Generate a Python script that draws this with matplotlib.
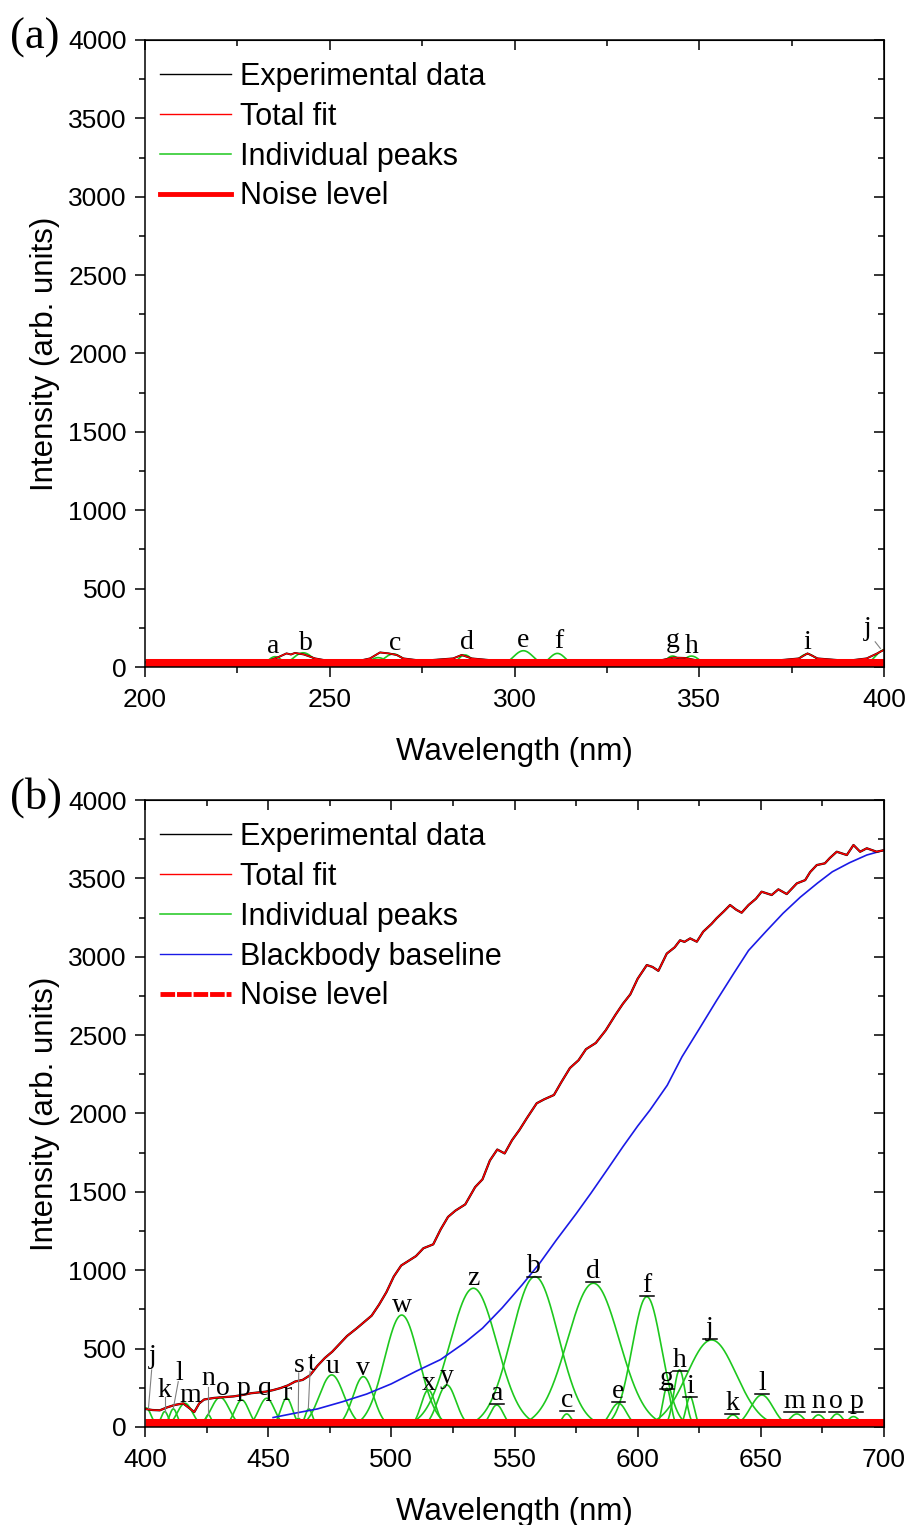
import matplotlib
matplotlib.use('Agg')
import matplotlib.pyplot as plt
from matplotlib.lines import Line2D
import numpy as np

plt.rcParams['font.family'] = 'Liberation Sans'

# ---------------- panel (a): 200-400 nm ----------------
fit_a_wl = [200, 230, 234, 236, 238.3, 239.5, 240.6, 243, 246, 250, 258, 260.9, 263.6,
            265.9, 268.1, 269.9, 275, 283.4, 285.7, 288.4, 293, 300, 320, 340, 343, 346,
            350, 370, 377, 379.3, 382, 390, 395.3, 398, 400]
fit_a_val = [30, 35, 45, 62, 87, 80, 90, 80, 55, 38, 40, 55, 93,
             87, 77, 55, 40, 55, 77, 55, 45, 40, 40, 45, 60, 58,
             40, 40, 55, 87, 55, 40, 55, 85, 110]
exp_a_val = fit_a_val

peak_a_cen = [235.2, 242.8, 263.1, 267.2, 286.6, 302.4, 311.6, 342.8, 347.9, 379.3, 400.0]
peak_a_hgt = [66, 91, 60, 83, 77, 104, 87, 70, 70, 83, 108]
peak_a_sig = [2.0, 2.8, 2.5, 2.8, 2.0, 2.8, 2.3, 2.0, 2.3, 2.6, 2.5]

lab_a_txt = ['a', 'b', 'c', 'd', 'e', 'f', 'g', 'h', 'i', 'j']
lab_a_x = [234.7, 243.5, 267.7, 287.1, 302.4, 311.9, 342.8, 347.9, 379.3, 395.7]
lab_a_y = [87, 108, 108, 113, 130, 119, 130, 87, 113, 204]

# ---------------- panel (b): 400-700 nm ----------------
fit_b_wl = [400, 403, 406, 409, 412, 415.5, 418, 420, 422, 424, 428, 432, 436, 440, 443,
            446, 449, 452, 455, 458, 461, 464, 467, 470, 473, 476, 479, 482, 486, 489,
            492, 495, 498, 501, 504, 507, 510, 513, 517, 520, 523, 526, 530, 534, 537,
            540, 543, 546, 549, 552, 555, 559, 562, 566, 569, 572.5, 576, 579, 583, 587,
            591, 594, 597, 600, 603.7, 606, 608.4, 611.8, 615, 617.2, 619, 621.3, 624,
            626.6, 630, 632, 635, 637.5, 640, 642.2, 645, 648, 650.3, 654.4, 657.1,
            660.5, 664.6, 668, 670, 672.7, 676, 678, 680.8, 684.9, 687.6, 690.3, 693,
            697, 700]
fit_b_val = [115, 108, 106, 125, 140, 150, 120, 95, 150, 175, 185, 190, 195, 205, 215,
             220, 225, 235, 248, 265, 290, 300, 330, 390, 440, 480, 530, 580, 630, 670,
             710, 780, 860, 960, 1030, 1060, 1090, 1140, 1165, 1260, 1340, 1380, 1420,
             1530, 1580, 1700, 1770, 1745, 1830, 1895, 1970, 2065, 2090, 2118, 2200,
             2290, 2340, 2410, 2450, 2530, 2630, 2700, 2760, 2860, 2947, 2935, 2910,
             3020, 3060, 3105, 3095, 3117, 3096, 3160, 3210, 3245, 3290, 3330, 3300,
             3281, 3330, 3370, 3415, 3394, 3430, 3400, 3468, 3489, 3540, 3585, 3596,
             3630, 3670, 3649, 3713, 3670, 3692, 3670, 3680]
exp_b_val = fit_b_val

bb_wl = [452, 460, 470, 480, 490, 500, 510, 520, 530, 537, 545, 553, 560, 567, 575, 581,
         588, 594, 600, 605, 612, 618, 625, 632, 639, 645, 652, 659, 666, 673, 679, 686,
         693, 700]
bb_val = [60, 85, 115, 160, 210, 275, 355, 430, 540, 630, 760, 905, 1040, 1193, 1360,
          1491, 1650, 1788, 1920, 2022, 2180, 2362, 2540, 2720, 2894, 3040, 3160, 3277,
          3380, 3470, 3542, 3600, 3649, 3680]

peak_b_cen = [400.5, 408.0, 411.5, 416.2, 425.7, 430.5, 439.3, 449.4, 457.5, 462.3, 466.5,
              475.8, 488.6, 504.2, 515.0, 522.5, 533.3,
              542.8, 558.3, 571.2, 582.0, 592.2, 603.7, 611.8, 617.0, 621.3, 630.0, 638.7,
              650.4, 664.6, 673.4, 680.9, 687.6]
peak_b_hgt = [121, 98, 115, 151, 77, 189, 172, 183, 183, 55, 115,
              332, 321, 714, 236, 268, 885,
              140, 959, 83, 917, 151, 831, 247, 364, 193, 555, 77,
              204, 83, 77, 83, 66]
peak_b_sig = [2.0, 1.5, 1.6, 3.1, 1.3, 3.7, 2.9, 3.2, 2.4, 1.2, 1.5,
              5.0, 4.2, 7.0, 2.9, 3.8, 9.5,
              2.7, 9.5, 2.0, 10.5, 3.3, 6.0, 1.7, 2.3, 1.7, 10.0, 2.5,
              4.6, 3.0, 2.5, 2.5, 2.5]

lab_b_txt = list('jklmnopqrstuvwxyz') + list('abcdefghijklmnop')
lab_b_x = [403.2, 408.0, 414.0, 418.5, 425.7, 431.8, 439.9, 448.7, 457.5, 462.6, 467.7,
           476.3, 488.6, 504.2, 515.0, 522.5, 533.3,
           542.8, 558.0, 571.2, 582.0, 592.2, 603.7, 611.8, 617.2, 621.3, 629.4, 638.4,
           650.6, 663.6, 673.4, 680.6, 688.7]
lab_b_y = [408, 193, 300, 161, 268, 204, 204, 204, 172, 353, 364,
           342, 332, 736, 236, 279, 906,
           172, 980, 130, 949, 183, 863, 268, 385, 215, 587, 108,
           236, 119, 119, 119, 119]
underlined = [False] * 17 + [True] * 16

# leader lines (label -> peak)
lead_a = [((397.6, 161), (399.0, 119))]
lead_b = [((402.7, 364), (401.4, 119)), ((408.0, 190), (408.0, 98)),
          ((413.5, 289), (411.5, 119)), ((425.7, 257), (425.7, 77)),
          ((462.4, 345), (462.2, 66)), ((467.0, 355), (466.3, 119))]

noise_level = 28

GREEN = '#1ec81e'
BLUE = '#1a1ae6'
RED = '#ff0000'


def gauss(x, c, h, s):
    return h * np.exp(-(x - c) ** 2 / (2 * s ** 2))


def style_axes(ax, xlo, xhi):
    ax.set_xlim(xlo, xhi)
    ax.set_ylim(0, 4000)
    ax.set_xticks(np.arange(xlo, xhi + 1, 50))
    ax.set_xticks(np.arange(xlo, xhi + 1, 25), minor=True)
    ax.set_yticks(np.arange(0, 4001, 500))
    ax.set_yticks(np.arange(0, 4001, 250), minor=True)
    ax.tick_params(which='both', direction='out', width=1.1, labelsize=19)
    ax.tick_params(axis='x', pad=8)
    ax.tick_params(axis='y', pad=6)
    ax.tick_params(which='major', length=7)
    ax.tick_params(which='minor', length=4)
    for sp in ax.spines.values():
        sp.set_linewidth(1.1)
    top = ax.secondary_xaxis('top')
    top.set_xticks(np.arange(xlo, xhi + 1, 50))
    top.set_xticks(np.arange(xlo, xhi + 1, 25), minor=True)
    top.tick_params(which='both', direction='in', width=1.1, labeltop=False)
    top.tick_params(which='major', length=7)
    top.tick_params(which='minor', length=4)
    right = ax.secondary_yaxis('right')
    right.set_yticks(np.arange(0, 4001, 500))
    right.set_yticks(np.arange(0, 4001, 250), minor=True)
    right.tick_params(which='both', direction='in', width=1.1, labelright=False)
    right.tick_params(which='major', length=7)
    right.tick_params(which='minor', length=4)
    ax.set_xlabel('Wavelength (nm)', fontsize=22.5, labelpad=18)
    ax.set_ylabel('Intensity (arb. units)', fontsize=22.5, labelpad=6)


fig = plt.figure(figsize=(9.08, 15.25), dpi=100)
axa = fig.add_axes([0.1597, 0.5626, 0.8139, 0.4112])
axb = fig.add_axes([0.1597, 0.0643, 0.8139, 0.4111])

leg_kw = dict(loc='upper left', bbox_to_anchor=(0, 0.989), frameon=False, fontsize=22,
              borderaxespad=0, borderpad=0.5, handlelength=2.3, handletextpad=0.3,
              labelspacing=0.32)

# ---- panel (a)
xa = np.linspace(200, 400, 2001)
for c, h, s in zip(peak_a_cen, peak_a_hgt, peak_a_sig):
    axa.plot(xa, gauss(xa, c, h, s), color=GREEN, lw=1.2)
axa.plot(fit_a_wl, exp_a_val, color='black', lw=1.4)
axa.plot(fit_a_wl, fit_a_val, color=RED, lw=1.0)
axa.plot([200, 400], [noise_level, noise_level], color=RED, lw=6.5, solid_capstyle='butt')
for t, x, y in zip(lab_a_txt, lab_a_x, lab_a_y):
    axa.text(x, y, t, family='Liberation Serif', fontsize=20, ha='center', va='baseline')
for (x0, y0), (x1, y1) in lead_a:
    axa.plot([x0, x1], [y0, y1], color='gray', lw=0.8)
style_axes(axa, 200, 400)
handles_a = [Line2D([], [], color='black', lw=1.0), Line2D([], [], color=RED, lw=1.0),
             Line2D([], [], color=GREEN, lw=1.1), Line2D([], [], color=RED, lw=3.5)]
axa.legend(handles_a, ['Experimental data', 'Total fit', 'Individual peaks', 'Noise level'],
           **leg_kw)

# ---- panel (b)
xb = np.linspace(400, 700, 3001)
for c, h, s in zip(peak_b_cen, peak_b_hgt, peak_b_sig):
    axb.plot(xb, gauss(xb, c, h, s), color=GREEN, lw=1.2)
axb.plot(bb_wl, bb_val, color=BLUE, lw=1.2)
axb.plot(fit_b_wl, exp_b_val, color='black', lw=1.6)
axb.plot(fit_b_wl, fit_b_val, color=RED, lw=1.1)
axb.plot([400, 700], [noise_level, noise_level], color=RED, lw=6.5, solid_capstyle='butt')
for t, x, y, u in zip(lab_b_txt, lab_b_x, lab_b_y, underlined):
    axb.text(x, y, t, family='Liberation Serif', fontsize=20, ha='center', va='baseline')
    if u:
        w = 4.4 if t == 'm' else 2.8
        axb.plot([x - w, x + w], [y - 26, y - 26], color='black', lw=1.1)
for (x0, y0), (x1, y1) in lead_b:
    axb.plot([x0, x1], [y0, y1], color='gray', lw=0.8)
style_axes(axb, 400, 700)
handles_b = [Line2D([], [], color='black', lw=1.0), Line2D([], [], color=RED, lw=1.0),
             Line2D([], [], color=GREEN, lw=1.1), Line2D([], [], color=BLUE, lw=1.0),
             Line2D([], [], color=RED, lw=3.5, linestyle=(0, (3, 0.4)))]
axb.legend(handles_b, ['Experimental data', 'Total fit', 'Individual peaks',
                       'Blackbody baseline', 'Noise level'], **leg_kw)

fig.text(0.011, 0.975, '(a)', family='Liberation Serif', fontsize=32, va='center')
fig.text(0.011, 0.477, '(b)', family='Liberation Serif', fontsize=32, va='center')

fig.savefig('out.png', dpi=100)
